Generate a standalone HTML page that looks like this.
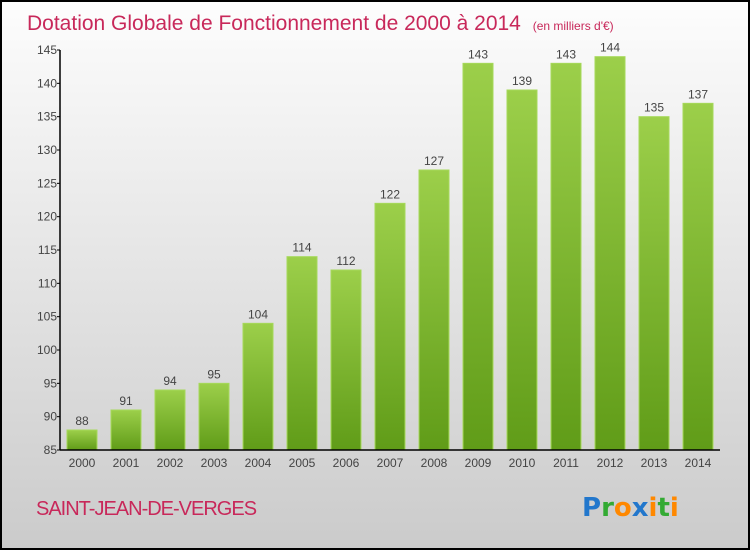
<!DOCTYPE html>
<html><head><meta charset="utf-8"><style>
html,body{margin:0;padding:0}
body{width:750px;height:550px;overflow:hidden;font-family:"Liberation Sans",sans-serif}
</style></head><body>
<svg id="chart" width="750" height="550" xmlns="http://www.w3.org/2000/svg">
<defs>
<linearGradient id="bg" x1="0" y1="0" x2="0" y2="1"><stop offset="0" stop-color="#fdfdfd"/><stop offset="1" stop-color="#cbcbcb"/></linearGradient>
<linearGradient id="bar" x1="0" y1="0" x2="0" y2="1"><stop offset="0" stop-color="#9ccf4a"/><stop offset="1" stop-color="#609c18"/></linearGradient>
</defs>
<rect x="1" y="1" width="748" height="548" fill="url(#bg)" stroke="#000" stroke-width="2"/>
<text x="27" y="30" font-size="21" fill="#c8285a">Dotation Globale de Fonctionnement de 2000 à 2014 <tspan font-size="12" dx="6">(en milliers d'€)</tspan></text>
<g id="bars"></g>
<g id="axes"></g>
<text x="36" y="515" font-size="20" fill="#c8285a" letter-spacing="-1">SAINT-JEAN-DE-VERGES</text>
<g font-size="26" font-weight="bold" font-family="'DejaVu Sans',sans-serif">
<text x="582" y="516"><tspan fill="#2277cc">P</tspan><tspan fill="#33aa33">r</tspan><tspan fill="#ff8800">o</tspan><tspan fill="#2277cc">x</tspan><tspan fill="#ff8800">i</tspan><tspan fill="#33aa33">t</tspan><tspan fill="#ff8800">i</tspan></text>
</g>
</svg>
<script>
const years=["2000","2001","2002","2003","2004","2005","2006","2007","2008","2009","2010","2011","2012","2013","2014"];
const values=[88,91,94,95,104,114,112,122,127,143,139,143,144,135,137];
const yTicks=[85,90,95,100,105,110,115,120,125,130,135,140,145];
const NS="http://www.w3.org/2000/svg";
const yMin=85,yMax=145,plotTop=50,plotBot=450;
function yS(v){return plotBot-(v-yMin)/(yMax-yMin)*(plotBot-plotTop);}
function xS(i){return 82+i*44;}
const bars=document.getElementById('bars'),axes=document.getElementById('axes');
function mk(tag,attrs,p){const e=document.createElementNS(NS,tag);for(const k in attrs)e.setAttribute(k,attrs[k]);p.appendChild(e);return e;}
values.forEach((v,i)=>{
 const r=mk('rect',{x:xS(i)-15,y:yS(v),width:30,height:plotBot-yS(v),fill:'url(#bar)',stroke:'#a6d95a','stroke-width':1},bars);
 
 
 const t=mk('text',{x:xS(i),y:yS(v)-5,'text-anchor':'middle','font-size':12,fill:'#444'},bars);
 t.textContent=v;
 
 
 const xl=mk('text',{x:xS(i),y:467,'text-anchor':'middle','font-size':12,fill:'#444'},axes);
 xl.textContent=years[i];
 
 
});
const ya=mk('line',{x1:60,y1:plotTop,x2:60,y2:plotBot,stroke:'#000','stroke-width':1.5},axes);


const xa=mk('line',{x1:60,y1:plotBot,x2:720,y2:plotBot,stroke:'#000','stroke-width':1.5},axes);


yTicks.forEach(v=>{
 mk('line',{x1:57,y1:yS(v),x2:60,y2:yS(v),stroke:'#000'},axes);
 const t=mk('text',{x:57,y:yS(v)+4,'text-anchor':'end','font-size':12,fill:'#444'},axes);
 t.textContent=v;
 
 
});
</script>
</body></html>
